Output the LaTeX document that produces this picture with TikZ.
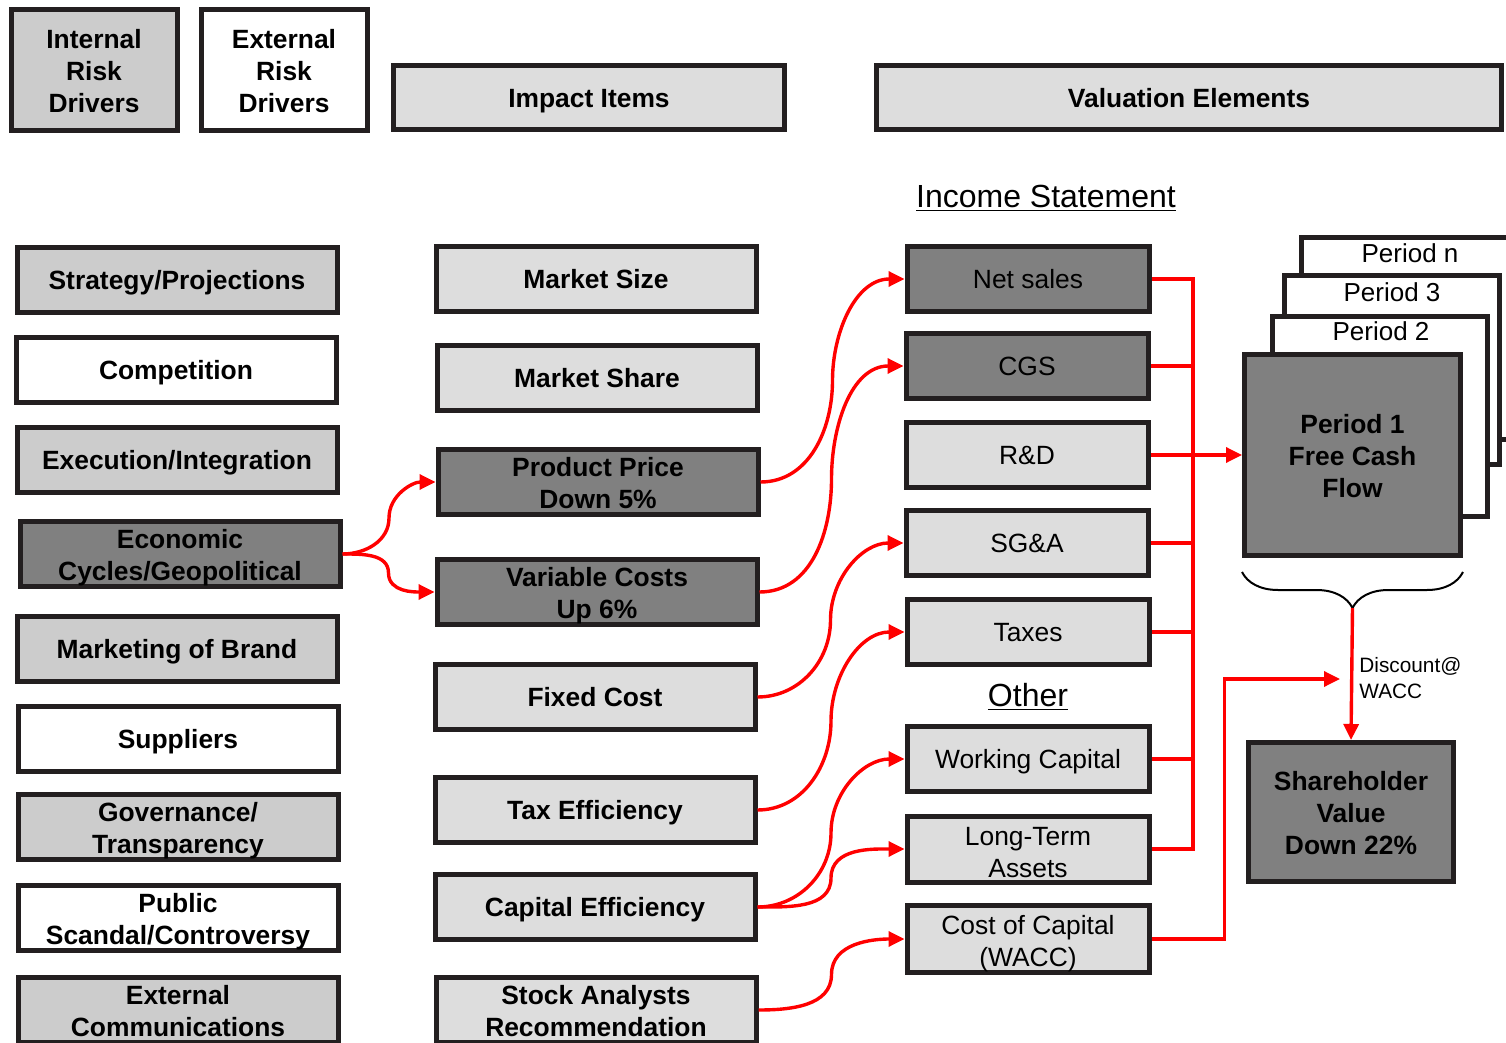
\documentclass[tikz,border=0pt]{standalone}
\usepackage{fontspec}
\setmainfont{Liberation Sans}
\usetikzlibrary{arrows.meta,decorations.pathreplacing,calc}
\definecolor{edge}{HTML}{231F20}
\definecolor{riskgray}{HTML}{CCCCCC}
\definecolor{itemgray}{HTML}{DDDDDD}
\definecolor{hitgray}{HTML}{808080}
\definecolor{flowred}{HTML}{FF0000}
\newcommand{\boxstrut}{\rule[-2.5pt]{0pt}{14.5pt}}

\begin{document}
\begin{tikzpicture}[x=0.5pt,y=-0.5pt,
    box/.style={draw=edge,line width=2.5pt,align=center,inner sep=0pt,
      font=\fontsize{13.2pt}{16pt}\selectfont\bfseries,
      execute at begin node=\boxstrut,execute at end node=\boxstrut},
    stack/.style={execute at begin node={\rule[-2.5pt]{0pt}{#1}}},
    stack/.default=31.5pt,
    drv/.style={box,minimum width=160pt,minimum height=32.5pt,fill=riskgray},
    imp/.style={box,minimum width=160pt,minimum height=32.5pt,fill=itemgray},
    val/.style={box,minimum width=121pt,minimum height=32.5pt,fill=itemgray,
      font=\fontsize{13.2pt}{16pt}\selectfont},
    hit/.style={fill=hitgray},
    ext/.style={fill=white},
    wire/.style={draw=flowred,line width=1.7pt},
    flow/.style={wire,-{Triangle[length=8pt,width=7.5pt]}},
    caption/.style={font=\fontsize{16pt}{19pt}\selectfont},
    period/.style={draw=edge,line width=2.5pt,fill=white},
    plabel/.style={font=\fontsize{13pt}{16pt}\selectfont}]
  \clip (0,0) rectangle (1506,1043);

  % headers
  \node[box,stack=47.5pt,fill=riskgray,minimum width=83pt,minimum height=60.5pt] (intl) at (94,70) {Internal\\Risk\\Drivers};
  \node[box,stack=47.5pt,fill=white,minimum width=83pt,minimum height=60.5pt] (extl) at (284,70) {External\\Risk\\Drivers};
  \node[box,fill=itemgray,minimum width=195.5pt,minimum height=32pt] (impact) at (589,98) {Impact Items};
  \node[box,fill=itemgray,minimum width=312.5pt,minimum height=32pt] (valu) at (1189,98) {Valuation Elements};

  % risk drivers
  \node[drv] (strat) at (177,280) {Strategy/Projections};
  \node[drv,ext] (comp) at (176,370) {Competition};
  \node[drv] (exec) at (177,460) {Execution/Integration};
  \node[drv,stack,hit] (econ) at (180,554) {Economic\\Cycles/Geopolitical};
  \node[drv] (brand) at (177,649) {Marketing of Brand};
  \node[drv,ext] (supp) at (178,739) {Suppliers};
  \node[drv,stack] (gov) at (178,827) {Governance/\\Transparency};
  \node[drv,stack,ext] (scand) at (178,918) {Public\\Scandal/Controversy};
  \node[drv,stack] (comm) at (178,1010) {External\\Communications};

  % impact items
  \node[imp] (msize) at (596,279) {Market Size};
  \node[imp] (mshare) at (597,378) {Market Share};
  \node[imp,stack,hit] (price) at (598,482) {Product Price\\Down 5\%};
  \node[imp,stack,hit] (varc) at (597,592) {Variable Costs\\Up 6\%};
  \node[imp] (fixc) at (595,697) {Fixed Cost};
  \node[imp] (taxeff) at (595,810) {Tax Efficiency};
  \node[imp] (capeff) at (595,907) {Capital Efficiency};
  \node[imp,stack] (analyst) at (596,1010) {Stock Analysts\\Recommendation};

  % valuation elements
  \node[caption] (incst) at (1046,198) {\underline{Income Statement}};
  \node[val,hit] (sales) at (1028,279) {Net sales};
  \node[val,hit] (cgs) at (1027,366) {CGS};
  \node[val] (rnd) at (1027,455) {R\&D};
  \node[val] (sga) at (1027,543) {SG\&A};
  \node[val] (taxes) at (1028,632) {Taxes};
  \node[caption] (other) at (1028,697) {\underline{Other}};
  \node[val] (wc) at (1028,759) {Working Capital};
  \node[val,stack=33pt] (lta) at (1028,849) {Long-Term\\Assets};
  \node[val,stack=33pt] (wacc) at (1028,939) {Cost of Capital\\(WACC)};

  % periods
  \draw[period] (1301.5,237.5) rectangle (1540,439.5);
  \node[plabel] (pn) at (1410,253) {Period n};
  \draw[period] (1284.5,275.5) rectangle (1499.5,464.5);
  \node[plabel] (p3) at (1392,292) {Period 3};
  \draw[period] (1272.5,316.5) rectangle (1487.5,516.5);
  \node[plabel] (p2) at (1381,331) {Period 2};
  \node[box,stack=47.5pt,hit,minimum width=108pt,minimum height=100.5pt] (p1) at (1352.5,455) {Period 1\\Free Cash\\Flow};
  \draw[decorate,decoration={brace,mirror,amplitude=18pt},line width=1pt]
    ([yshift=-7pt]p1.south west) -- ([yshift=-7pt]p1.south east)
    coordinate[pos=0.5,yshift=-18pt] (btip);
  \node[box,stack=47.5pt,hit,minimum width=102.5pt,minimum height=69.5pt] (sh) at (1351,812) {Shareholder\\Value\\Down 22\%};

  % links
  \foreach \a/\b in {econ/price,price/sales,varc/cgs,fixc/sga,taxeff/taxes,capeff/wc,capeff/lta,analyst/wacc}
    \draw[flow] (\a.east) to[out=0,in=-90] ($(\a.east)!.5!(\b.west)$)
      to[out=90,in=180] (\b.west);
  \draw[flow] (econ.east) to[out=0,in=90] ($(econ.east)!.5!(varc.west)$)
    to[out=-90,in=180] (varc.west);

  % bus into cash flow
  \coordinate (bt) at (1193,279);
  \draw[wire] (sales.east) -- (bt) -- (bt |- lta.east) -- (lta.east);
  \foreach \n in {cgs,sga,taxes,wc}
    \draw[wire] (\n.east) -- (\n.east -| bt);
  \draw[flow] (rnd.east) -- (p1.west);

  % discounting
  \draw[flow] (btip) -- (sh.north);
  \coordinate (dsc) at (1340,679);
  \draw[flow] (wacc.east) -- ++(73,0) |- (dsc);
  \node[anchor=west,align=left,inner sep=0pt,font=\fontsize{10.4pt}{13pt}\selectfont] (dtext) at (1359,678) {Discount@\\WACC};
\end{tikzpicture}
\end{document}
